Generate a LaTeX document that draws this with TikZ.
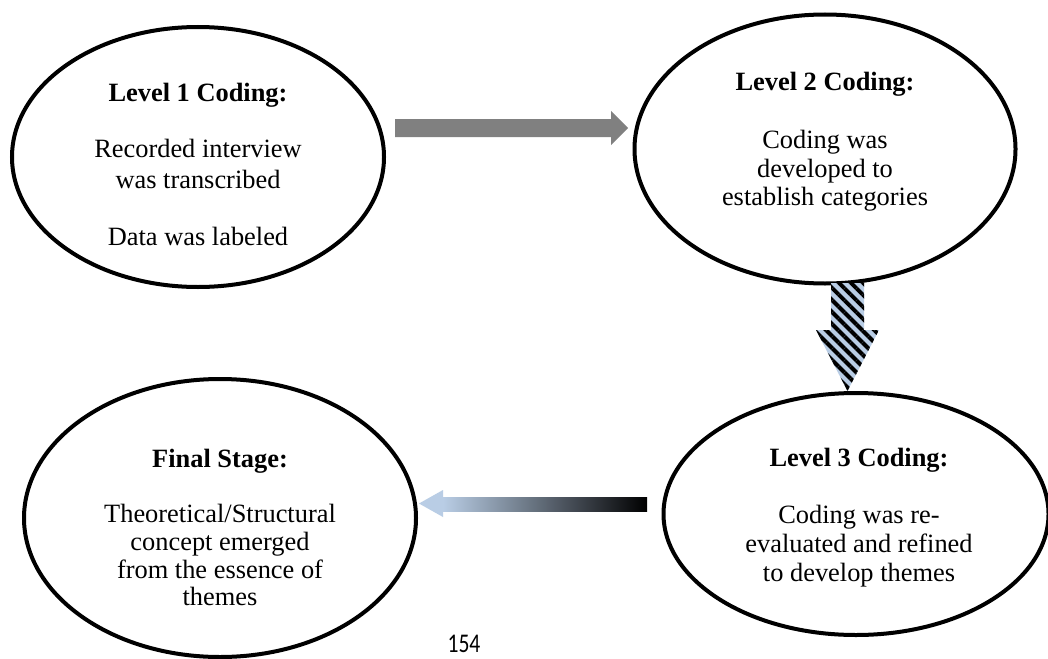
\documentclass[tikz,border=0pt]{standalone}
\usepackage{fontspec}
\setmainfont{Liberation Serif}
\newfontfamily\pagefont{Carlito}
\usetikzlibrary{shapes.geometric,patterns.meta}
\definecolor{arrowgray}{HTML}{808080}
\definecolor{paleblue}{HTML}{B9CDE5}
\begin{document}
\begin{tikzpicture}[x=1pt,y=-1pt,
  stage/.style={draw=black, line width=4pt, ellipse, inner sep=0pt},
  ttl/.style={anchor=base, font=\fontsize{26.4}{30}\selectfont\bfseries, inner sep=0pt},
  body/.style={anchor=base, font=\fontsize{26.4}{30}\selectfont, inner sep=0pt},
]
\useasboundingbox[fill=white] (0,0) rectangle (1048,658);

% ellipses
\node[stage, minimum width=372pt, minimum height=260pt] (e1) at (198,157) {};
\node[stage, minimum width=381pt, minimum height=269pt] (e2) at (825,149) {};
\node[stage, minimum width=385pt, minimum height=242pt] (e3) at (856,514) {};
\node[stage, minimum width=392pt, minimum height=278pt] (e4) at (220,518) {};

% texts ellipse 1
\node[ttl]  (t1)  at (198,102) {Level 1 Coding:};
\node[body] (t1a) at (198,157) {Recorded interview};
\node[body] (t1b) at (198,188) {was transcribed};
\node[body] (t1c) at (198,245) {Data was labeled};

% texts ellipse 2
\node[ttl]  (t2)  at (825,91) {Level 2 Coding:};
\node[body] (t2a) at (825,148) {Coding was};
\node[body] (t2b) at (825,177) {developed to};
\node[body] (t2c) at (825,205) {establish categories};

% texts ellipse 3
\node[ttl]  (t3)  at (859,466) {Level 3 Coding:};
\node[body] (t3a) at (859,523) {Coding was re-};
\node[body] (t3b) at (859,552) {evaluated and refined};
\node[body] (t3c) at (859,581) {to develop themes};

% texts final
\node[ttl]  (t4)  at (220,467) {Final Stage:};
\node[body] (t4a) at (220,522) {Theoretical/Structural};
\node[body] (t4b) at (220,550) {concept emerged};
\node[body] (t4c) at (220,578) {from the essence of};
\node[body] (t4d) at (220,605) {themes};

% arrow 1 -> (gray block)
\fill[arrowgray] (395,119) -- (611,119) -- (611,111) -- (628,128) -- (611,145) -- (611,137) -- (395,137) -- cycle;

% arrow 2 down (striped)
\path[preaction={fill=paleblue}, pattern={Lines[angle=-45,distance=8.5pt,line width=4pt]}, pattern color=black]
  (831,283) -- (864,283) -- (864,330) -- (879,330) -- (847.5,391) -- (816,330) -- (831,330) -- cycle;

% arrow 3 left (gradient)
\shade[left color=paleblue, right color=black] (443,497) rectangle (647,511);
\fill[paleblue] (443,490) -- (419,503.5) -- (443,517) -- cycle;

% page number
\node[anchor=base, inner sep=0pt, font=\pagefont\fontsize{27}{30}\selectfont] (pg) at (464,652) {\scalebox{0.8}[1]{154}};
\end{tikzpicture}
\end{document}
